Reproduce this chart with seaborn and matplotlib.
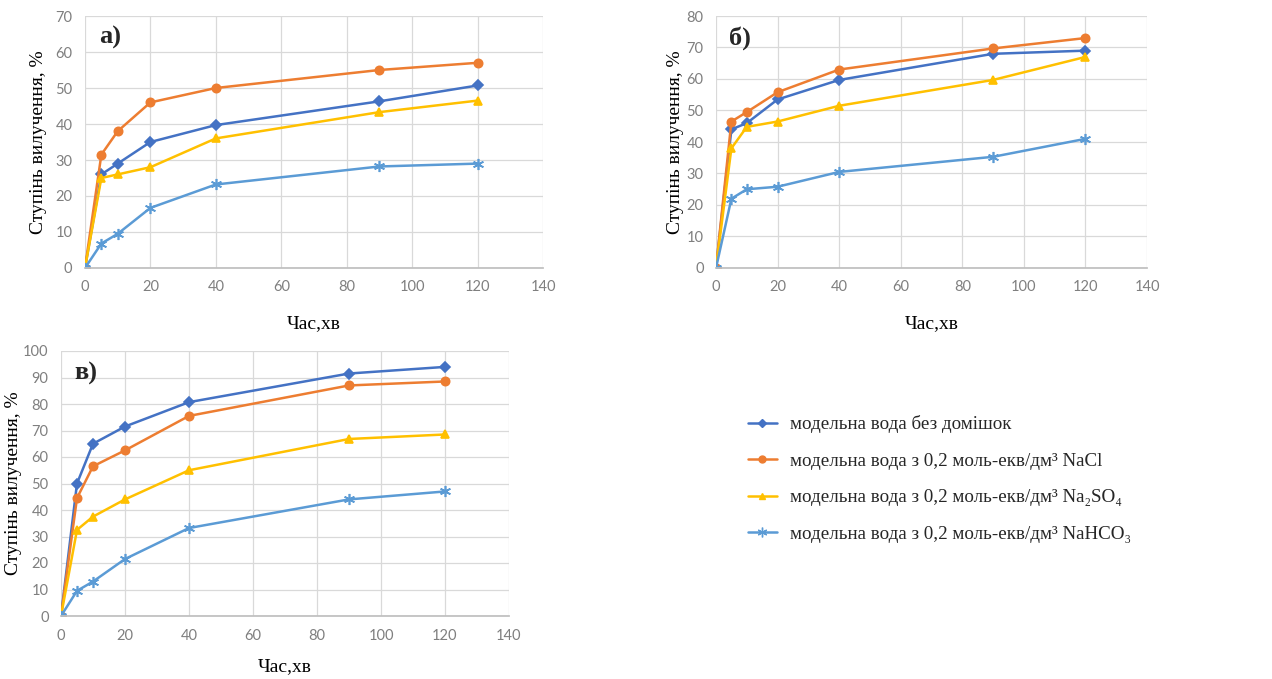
import pandas as pd
import matplotlib
matplotlib.use("Agg")
import matplotlib.pyplot as plt
import seaborn as sns
from matplotlib.lines import Line2D

# час, хв
time_min = [0, 5, 10, 20, 40, 90, 120]

series_names = [
    "модельна вода без домішок",
    "модельна вода з 0,2 моль-екв/дм³ NaCl",
    "модельна вода з 0,2 моль-екв/дм³ Na₂SO₄",
    "модельна вода з 0,2 моль-екв/дм³ NaHCO₃",
]

# панель а)
a_plain = [0, 26, 29, 35, 39.7, 46.3, 50.7]
a_nacl = [0, 31.5, 38, 46, 50, 55, 57]
a_na2so4 = [0, 25, 26, 28, 36, 43.3, 46.5]
a_nahco3 = [0, 6.8, 9.5, 16.7, 23.2, 28.2, 29]

# панель б)
b_plain = [0, 44, 46, 53.5, 59.7, 68, 69]
b_nacl = [0, 46.5, 49.5, 55.8, 63, 69.7, 73]
b_na2so4 = [0, 38, 44.8, 46.5, 51.5, 59.7, 67]
b_nahco3 = [0, 22, 25, 25.8, 30.5, 35.3, 41]

# панель в)
c_plain = [0, 50, 65, 71.5, 80.7, 91.5, 94]
c_nacl = [0, 44.5, 56.5, 62.5, 75.5, 87, 88.5]
c_na2so4 = [0, 32.5, 37.5, 44, 55, 66.8, 68.5]
c_nahco3 = [0, 9.5, 13, 21.5, 33.2, 44, 47]

colors = ["#4472C4", "#ED7D31", "#FFC000", "#5B9BD5"]
markers = ["D", "o", "^", (6, 2, 0)]
msizes = [5, 6, 6, 8]


def make_df(*vals):
    rows = []
    for name, v in zip(series_names, vals):
        for t, y in zip(time_min, v):
            rows.append({"time": t, "value": y, "series": name})
    return pd.DataFrame(rows)


sns.set_theme(style="white")
plt.rcParams['font.family'] = ['Lato', 'DejaVu Sans']

fig = plt.figure(figsize=(12.72, 6.79), dpi=100)
W, H = 1272, 679

# дані, межа y, підпис, межі області в пікселях, відступи підписів осей
panels = [
    (make_df(a_plain, a_nacl, a_na2so4, a_nahco3), 70, "а)", (85, 16, 543, 268), 15, 6),
    (make_df(b_plain, b_nacl, b_na2so4, b_nahco3), 80, "б)", (716, 16, 1147, 268), 15, 2),
    (make_df(c_plain, c_nacl, c_na2so4, c_nahco3), 100, "в)", (61, 351, 509, 616), 11, 1),
]

serif = ['Liberation Serif', 'DejaVu Serif']
for df, ymax, lab, (l, t, r, b), xpad, ypad in panels:
    ax = fig.add_axes([l / W, 1 - b / H, (r - l) / W, (b - t) / H])
    for name, c, m, ms in zip(series_names, colors, markers, msizes):
        sub = df[df["series"] == name]
        sns.lineplot(data=sub, x="time", y="value", color=c, marker=m,
                     markersize=ms, markeredgecolor=c, markeredgewidth=1.2,
                     linewidth=1.8, ax=ax)
    ax.set_xlim(0, 140)
    ax.set_ylim(0, ymax)
    ax.set_xticks(range(0, 141, 20))
    ax.set_yticks(range(0, ymax + 1, 10))
    ax.grid(True, color="#D9D9D9", linewidth=0.9)
    ax.set_axisbelow(True)
    for s in ["top", "right", "left"]:
        ax.spines[s].set_visible(False)
    ax.spines["bottom"].set_color("#BFBFBF")
    ax.tick_params(axis="both", colors="#7F7F7F", labelsize=10.5, length=0, pad=9)
    ax.set_xlabel("Час,хв", family=serif, fontsize=14, color="black", labelpad=xpad)
    ax.set_ylabel("Ступінь вилучення, %", family=serif, fontsize=14, color="black", labelpad=ypad)
    ax.text(0.03, 0.96, lab, transform=ax.transAxes, family=serif, fontsize=19,
            fontweight="bold", va="top", ha="left")

# легенда
handles = [Line2D([], [], color=c, marker=m, markersize=ms - 1, markeredgecolor=c,
                  linewidth=1.8) for c, m, ms in zip(colors, markers, msizes)]
fig.legend(handles, series_names, loc="center left", bbox_to_anchor=(748 / W, 1 - 479 / H),
           frameon=False, prop={"family": serif, "size": 13.7}, handlelength=1.5,
           labelspacing=1.0, handletextpad=0.7, borderpad=0, borderaxespad=0)

fig.savefig("out.png", dpi=100)
